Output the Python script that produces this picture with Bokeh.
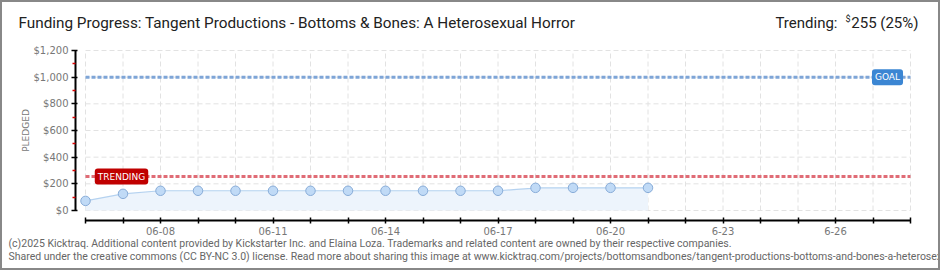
import math
from bokeh.plotting import figure
from bokeh.models import Range1d, FixedTicker, Label, NumeralTickFormatter, InlineStyleSheet, LinearAxis
from bokeh.embed import file_html
from bokeh.resources import INLINE

TITLE = "Funding Progress: Tangent Productions - Bottoms & Bones: A Heterosexual Horror"
FOOTER1 = "(c)2025 Kicktraq. Additional content provided by Kickstarter Inc. and Elaina Loza. Trademarks and related content are owned by their respective companies."
FOOTER2 = "Shared under the creative commons (CC BY-NC 3.0) license. Read more about sharing this image at www.kicktraq.com/projects/bottomsandbones/tangent-productions-bottoms-and-bones-a-heterosexual-horror/"

# days since 06-06
days = list(range(16))
pledged = [72, 125, 148, 148, 148, 148, 148, 148, 148, 148, 148, 148, 170, 170, 170, 170]
line_days = [0, 1, 2, 3, 4, 5, 6, 7, 8, 9, 10, 11, 11.5, 11.9, 12, 13, 14, 15]
line_vals = [72, 125, 148, 148, 148, 148, 148, 148, 148, 148, 148, 148, 158, 166, 170, 170, 170, 170]

tick_days = list(range(23))
label_days = [2, 5, 8, 11, 14, 17, 20]
label_text = ["06-08", "06-11", "06-14", "06-17", "06-20", "6-23", "6-26"]
y_ticks = [0, 200, 400, 600, 800, 1000, 1200]
y_minor = [100, 300, 500, 700, 900, 1100]

goal = 1000
trending = 255

W, H = 940, 270
# frame covers the whole canvas; axes are placed with fixed_location
p = figure(width=W, height=H, output_backend="svg", toolbar_location=None,
           x_range=Range1d(-2.2667, 22.8), y_range=Range1d(-450, 1575),
           x_axis_location=None, y_axis_location=None,
           min_border_left=0, min_border_right=0, min_border_top=0, min_border_bottom=0)
p.xgrid.visible = False
p.ygrid.visible = False
p.outline_line_color = None
p.background_fill_color = "white"
p.border_fill_color = "white"
p.stylesheets = [InlineStyleSheet(css=":host::after { content: ''; position: absolute; left: 0; top: 0; "
                                      "width: 940px; height: 270px; box-sizing: border-box; "
                                      "border: 2px solid #888888; pointer-events: none; z-index: 100; }")]

GRID = "#e2e2e2"
p.segment(x0=[tick_days[0]] * len(y_ticks), x1=[tick_days[-1]] * len(y_ticks), y0=y_ticks, y1=y_ticks,
          line_color=GRID, line_dash="5 3", line_width=1)
p.segment(x0=tick_days, x1=tick_days, y0=[y_ticks[0]] * len(tick_days), y1=[y_ticks[-1]] * len(tick_days),
          line_color=GRID, line_dash="5 3", line_width=1)

p.varea(x=line_days, y1=[0] * len(line_days), y2=line_vals, fill_color="#edf4fc")
p.line(x=line_days, y=line_vals, line_color="#b5d2f0", line_width=1.2)
p.scatter(x=days, y=pledged, size=9.5, fill_color="#c0daf6", line_color="#88acd8", line_width=1)

p.line(x=[tick_days[0], tick_days[-1]], y=[goal, goal], line_color="#7ea5d7", line_width=3, line_dash="4 2")
p.line(x=[tick_days[0], tick_days[-1]], y=[trending, trending], line_color="#e06c76", line_width=3, line_dash="4 2")

xa = LinearAxis(fixed_location=-75)
xa.ticker = FixedTicker(ticks=tick_days)
xa.bounds = (tick_days[0], tick_days[-1])
ov = {d: "" for d in tick_days}
for d, t in zip(label_days, label_text):
    ov[d] = t
xa.major_label_overrides = ov
xa.major_tick_in = 3
xa.major_tick_out = 3
xa.minor_tick_line_color = None
xa.axis_line_width = 2
xa.major_tick_line_width = 1.5
xa.major_label_text_font = "DejaVu Sans"
xa.major_label_text_font_size = "10px"
xa.major_label_text_color = "#777777"
xa.major_label_standoff = 3
p.add_layout(xa, "below")

ya = LinearAxis(fixed_location=-0.2667)
ya.ticker = FixedTicker(ticks=y_ticks, minor_ticks=y_minor)
ya.bounds = (y_ticks[0], y_ticks[-1])
ya.formatter = NumeralTickFormatter(format="$0,0")
ya.major_tick_out = 4
ya.major_tick_in = 2
ya.major_tick_line_width = 1.5
ya.minor_tick_out = 3
ya.minor_tick_in = 0
ya.minor_tick_line_color = "#dd0000"
ya.minor_tick_line_width = 1.5
ya.axis_line_width = 2
ya.major_label_text_font = "DejaVu Sans"
ya.major_label_text_font_size = "10px"
ya.major_label_text_color = "#777777"
ya.major_label_standoff = 3
p.add_layout(ya, "left")

# texts (screen units measured from the canvas' bottom-left corner)
def txt(x, y, text, size, color="#222222", font="Roboto", align="left", angle=0):
    p.add_layout(Label(x=x, y=y, x_units="screen", y_units="screen", text=text, angle=angle,
                       text_font=font, text_font_size=size, text_color=color,
                       text_align=align, text_baseline="middle"))

txt(18, 248, TITLE, "15.3px")
txt(918, 248, "%d (%d%%)" % (trending, int(trending * 100 / goal)), "15px", align="right")
txt(850, 252, "$", "9px", align="right")
txt(837, 248, "Trending:", "15px", align="right")
txt(8, 27, FOOTER1, "10.5px", color="#666666")
txt(8, 14, FOOTER2, "10.5px", color="#666666")
txt(25, 140, "PLEDGED", "9px", color="#777777", font="DejaVu Sans", align="center", angle=math.pi / 2)

p.add_layout(Label(x=887, y=goal, x_units="screen", y_units="data", text="GOAL",
                   text_font="DejaVu Sans", text_font_size="9px", text_color="white",
                   text_align="center", text_baseline="middle",
                   background_fill_color="#3b86d3", padding=3, border_radius=3))
p.add_layout(Label(x=121, y=trending, x_units="screen", y_units="data", text="TRENDING",
                   text_font="DejaVu Sans", text_font_size="9px", text_color="white",
                   text_align="center", text_baseline="middle",
                   background_fill_color="#c00000", padding=3, border_radius=3))

open("out.html", "w").write(file_html(p, INLINE))
